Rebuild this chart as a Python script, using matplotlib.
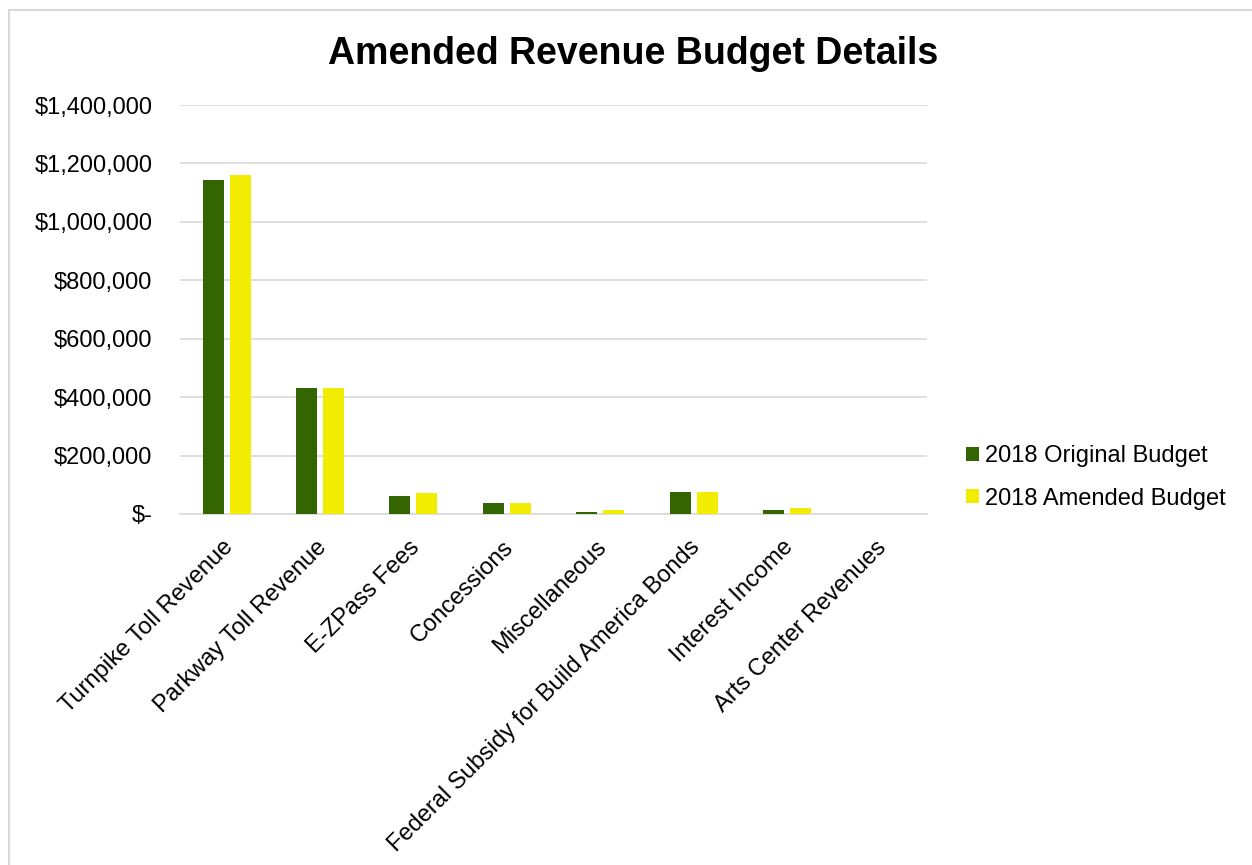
import matplotlib
matplotlib.use("Agg")
import matplotlib.pyplot as plt
import numpy as np
from matplotlib.ticker import FuncFormatter, MultipleLocator
from matplotlib.patches import Rectangle
from matplotlib.transforms import ScaledTranslation

categories = [
    "Turnpike Toll Revenue",
    "Parkway Toll Revenue",
    "E-ZPass Fees",
    "Concessions",
    "Miscellaneous",
    "Federal Subsidy for Build America Bonds",
    "Interest Income",
    "Arts Center Revenues",
]
original_budget = [1143000, 431000, 63000, 39000, 8000, 74000, 12000, 500]
amended_budget = [1160000, 431000, 73000, 38000, 15000, 74000, 21000, 500]
series_names = ["2018 Original Budget", "2018 Amended Budget"]

plt.rcParams["font.family"] = ["Liberation Sans", "DejaVu Sans"]

fig = plt.figure(figsize=(12.52, 8.65), dpi=100)
ax = fig.add_axes([0.1438, 0.4058, 0.5966, 0.4728])

x = np.arange(len(categories))
bw = 0.225
off = 0.145
ax.bar(x - off, original_budget, bw, color="#336600", label=series_names[0], zorder=3)
ax.bar(x + off, amended_budget, bw, color="#F2EC00", label=series_names[1], zorder=3)

ax.set_xlim(-0.5, len(categories) - 0.5)
ax.set_ylim(0, 1400000)
ax.yaxis.set_major_locator(MultipleLocator(200000))
ax.yaxis.set_major_formatter(FuncFormatter(lambda v, p: "$-" if v == 0 else f"${v:,.0f}"))
ax.grid(axis="y", color="#D9D9D9", linewidth=1.2, zorder=0)
for s in ["top", "right", "left"]:
    ax.spines[s].set_visible(False)
ax.spines["bottom"].set_color("#D9D9D9")
ax.spines["bottom"].set_linewidth(1.2)
ax.tick_params(axis="y", length=0, pad=20, labelsize=17)
ax.tick_params(axis="x", length=0, pad=16, labelsize=17)
ax.set_xticks(x)
ax.set_xticklabels(categories, rotation=45, ha="right", rotation_mode="anchor")
shift = ScaledTranslation(-5 / 100, 0, fig.dpi_scale_trans)
for lbl in ax.get_xticklabels():
    lbl.set_transform(lbl.get_transform() + shift)

fig.text(0.506, 0.937, "Amended Revenue Budget Details", ha="center", va="center",
         fontsize=27, fontweight="bold")

fig.legend(loc="center left", bbox_to_anchor=(0.7546, 0.448), frameon=False,
           fontsize=17, handlelength=0.55, handleheight=0.55, handletextpad=0.25,
           labelspacing=0.85)

# light frame around the chart area (right and bottom edges run off the canvas)
fig.patches.append(Rectangle((0.0068, -0.05), 1.05, 1.0384, transform=fig.transFigure,
                             fill=False, edgecolor="#D9D9D9", linewidth=1.5))

fig.savefig("out.png", dpi=100, facecolor="white")
